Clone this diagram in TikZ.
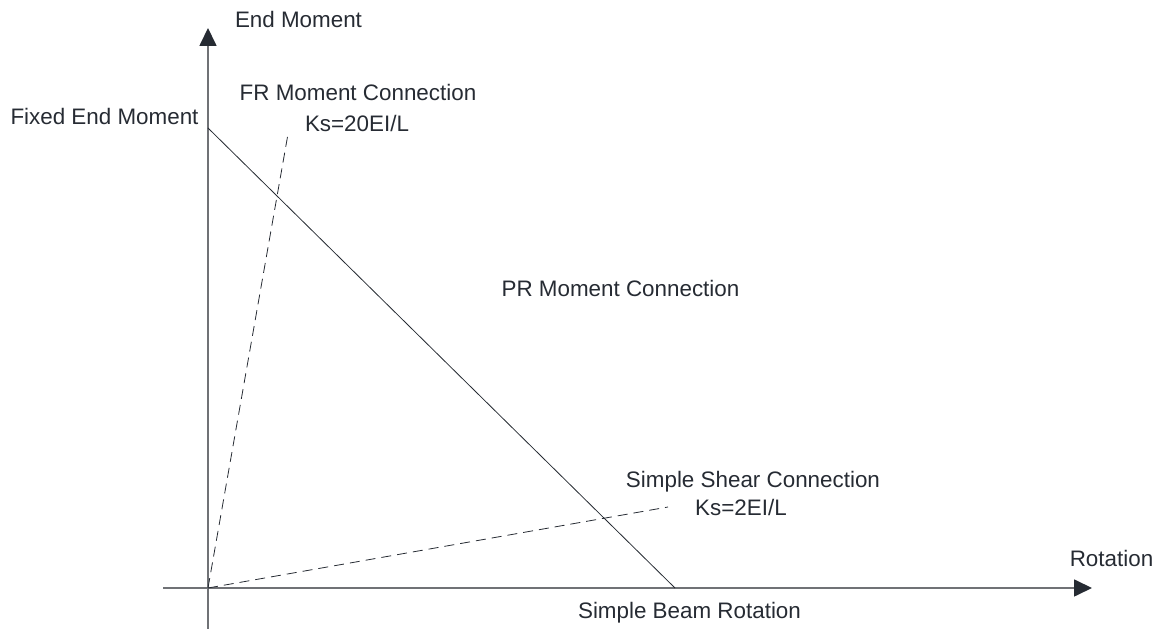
\documentclass[tikz,border=0pt]{standalone}
\usepackage{fontspec}
\setmainfont{Liberation Sans}
\usetikzlibrary{arrows.meta}

\definecolor{inkgray}{RGB}{38,43,51}
\definecolor{axisgray}{RGB}{112,114,118}

\begin{document}
\begin{tikzpicture}[x=0.75pt,y=-0.75pt,
    axis/.style={draw=axisgray, line width=1.1pt,
      -{Triangle[length=13.5pt,width=12.8pt,color=inkgray]}},
    plaintext/.style={text=inkgray, font=\fontsize{16.8}{20}\selectfont,
      inner sep=0pt, anchor=base},
    rigid/.style={draw=inkgray, line width=0.6pt},
    stiff/.style={draw=inkgray, line width=0.6pt, dash pattern=on 7.5pt off 4.5pt}]
  \useasboundingbox (0,0) rectangle (1165,630);

  % axes
  \coordinate (origin) at (208,588);
  \coordinate (ybot) at (208,629);
  \coordinate (ytip) at (208,28);
  \coordinate (xleft) at (163,588);
  \coordinate (xtip) at (1092,588);
  \draw[axis] (ybot) -- (ytip);
  \draw[axis] (xleft) -- (xtip);

  % beam line and connection stiffness lines
  \coordinate (fem) at (208,128);
  \coordinate (sbr) at (675,588);
  \coordinate (frend) at (288,134);
  \coordinate (ssend) at (668,507);
  \draw[rigid] (fem) -- (sbr);
  \draw[stiff] (origin) -- (frend);
  \draw[stiff] (origin) -- (ssend);

  % labels
  \node[plaintext] (ylab) at (298.5,28) {End Moment};
  \node[plaintext] (xlab) at (1111.5,567) {Rotation};
  \node[plaintext] (femlab) at (104.5,125) {Fixed End Moment};
  \node[plaintext] (frlab) at (358,101) {FR Moment Connection};
  \node[plaintext] (frks) at (357,132) {Ks=20EI/L};
  \node[plaintext] (prlab) at (620.5,297) {PR Moment Connection};
  \node[plaintext] (sslab) at (753,488) {Simple Shear Connection};
  \node[plaintext] (ssks) at (741,516) {Ks=2EI/L};
  \node[plaintext] (sbrlab) at (689.5,619) {Simple Beam Rotation};
\end{tikzpicture}
\end{document}
